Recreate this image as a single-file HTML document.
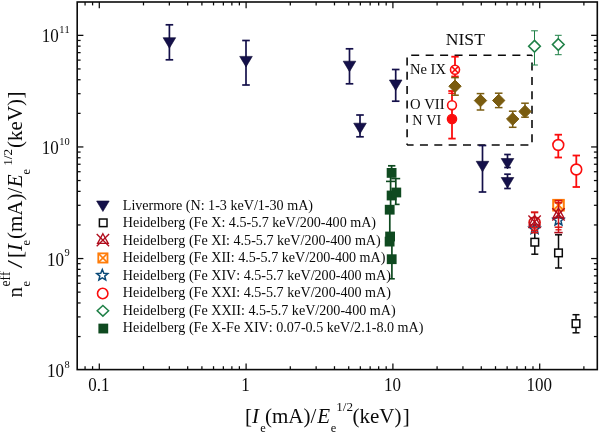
<!DOCTYPE html>
<html lang="en"><head><meta charset="utf-8"><title>Effective electron density plot</title>
<style>html,body{margin:0;padding:0;background:#fff;}body{width:600px;height:432px;overflow:hidden;}svg{display:block;}</style>
</head><body>
<svg width="600" height="432" viewBox="0 0 600 432" font-family="'Liberation Serif', serif" fill="#0a0a0a" style="font-kerning:none">
<rect x="0" y="0" width="600" height="432" fill="#fff"/>
<line x1="85.07" y1="369.60" x2="85.07" y2="366.20" stroke="#0a0a0a" stroke-width="1.25" />
<line x1="85.07" y1="2.00" x2="85.07" y2="5.40" stroke="#0a0a0a" stroke-width="1.25" />
<line x1="92.58" y1="369.60" x2="92.58" y2="366.20" stroke="#0a0a0a" stroke-width="1.25" />
<line x1="92.58" y1="2.00" x2="92.58" y2="5.40" stroke="#0a0a0a" stroke-width="1.25" />
<line x1="99.30" y1="369.60" x2="99.30" y2="363.40" stroke="#0a0a0a" stroke-width="1.25" />
<line x1="99.30" y1="2.00" x2="99.30" y2="8.20" stroke="#0a0a0a" stroke-width="1.25" />
<line x1="143.49" y1="369.60" x2="143.49" y2="366.20" stroke="#0a0a0a" stroke-width="1.25" />
<line x1="143.49" y1="2.00" x2="143.49" y2="5.40" stroke="#0a0a0a" stroke-width="1.25" />
<line x1="169.34" y1="369.60" x2="169.34" y2="366.20" stroke="#0a0a0a" stroke-width="1.25" />
<line x1="169.34" y1="2.00" x2="169.34" y2="5.40" stroke="#0a0a0a" stroke-width="1.25" />
<line x1="187.68" y1="369.60" x2="187.68" y2="366.20" stroke="#0a0a0a" stroke-width="1.25" />
<line x1="187.68" y1="2.00" x2="187.68" y2="5.40" stroke="#0a0a0a" stroke-width="1.25" />
<line x1="201.91" y1="369.60" x2="201.91" y2="366.20" stroke="#0a0a0a" stroke-width="1.25" />
<line x1="201.91" y1="2.00" x2="201.91" y2="5.40" stroke="#0a0a0a" stroke-width="1.25" />
<line x1="213.53" y1="369.60" x2="213.53" y2="366.20" stroke="#0a0a0a" stroke-width="1.25" />
<line x1="213.53" y1="2.00" x2="213.53" y2="5.40" stroke="#0a0a0a" stroke-width="1.25" />
<line x1="223.36" y1="369.60" x2="223.36" y2="366.20" stroke="#0a0a0a" stroke-width="1.25" />
<line x1="223.36" y1="2.00" x2="223.36" y2="5.40" stroke="#0a0a0a" stroke-width="1.25" />
<line x1="231.87" y1="369.60" x2="231.87" y2="366.20" stroke="#0a0a0a" stroke-width="1.25" />
<line x1="231.87" y1="2.00" x2="231.87" y2="5.40" stroke="#0a0a0a" stroke-width="1.25" />
<line x1="239.38" y1="369.60" x2="239.38" y2="366.20" stroke="#0a0a0a" stroke-width="1.25" />
<line x1="239.38" y1="2.00" x2="239.38" y2="5.40" stroke="#0a0a0a" stroke-width="1.25" />
<line x1="246.10" y1="369.60" x2="246.10" y2="363.40" stroke="#0a0a0a" stroke-width="1.25" />
<line x1="246.10" y1="2.00" x2="246.10" y2="8.20" stroke="#0a0a0a" stroke-width="1.25" />
<line x1="290.29" y1="369.60" x2="290.29" y2="366.20" stroke="#0a0a0a" stroke-width="1.25" />
<line x1="290.29" y1="2.00" x2="290.29" y2="5.40" stroke="#0a0a0a" stroke-width="1.25" />
<line x1="316.14" y1="369.60" x2="316.14" y2="366.20" stroke="#0a0a0a" stroke-width="1.25" />
<line x1="316.14" y1="2.00" x2="316.14" y2="5.40" stroke="#0a0a0a" stroke-width="1.25" />
<line x1="334.48" y1="369.60" x2="334.48" y2="366.20" stroke="#0a0a0a" stroke-width="1.25" />
<line x1="334.48" y1="2.00" x2="334.48" y2="5.40" stroke="#0a0a0a" stroke-width="1.25" />
<line x1="348.71" y1="369.60" x2="348.71" y2="366.20" stroke="#0a0a0a" stroke-width="1.25" />
<line x1="348.71" y1="2.00" x2="348.71" y2="5.40" stroke="#0a0a0a" stroke-width="1.25" />
<line x1="360.33" y1="369.60" x2="360.33" y2="366.20" stroke="#0a0a0a" stroke-width="1.25" />
<line x1="360.33" y1="2.00" x2="360.33" y2="5.40" stroke="#0a0a0a" stroke-width="1.25" />
<line x1="370.16" y1="369.60" x2="370.16" y2="366.20" stroke="#0a0a0a" stroke-width="1.25" />
<line x1="370.16" y1="2.00" x2="370.16" y2="5.40" stroke="#0a0a0a" stroke-width="1.25" />
<line x1="378.67" y1="369.60" x2="378.67" y2="366.20" stroke="#0a0a0a" stroke-width="1.25" />
<line x1="378.67" y1="2.00" x2="378.67" y2="5.40" stroke="#0a0a0a" stroke-width="1.25" />
<line x1="386.18" y1="369.60" x2="386.18" y2="366.20" stroke="#0a0a0a" stroke-width="1.25" />
<line x1="386.18" y1="2.00" x2="386.18" y2="5.40" stroke="#0a0a0a" stroke-width="1.25" />
<line x1="392.90" y1="369.60" x2="392.90" y2="363.40" stroke="#0a0a0a" stroke-width="1.25" />
<line x1="392.90" y1="2.00" x2="392.90" y2="8.20" stroke="#0a0a0a" stroke-width="1.25" />
<line x1="437.09" y1="369.60" x2="437.09" y2="366.20" stroke="#0a0a0a" stroke-width="1.25" />
<line x1="437.09" y1="2.00" x2="437.09" y2="5.40" stroke="#0a0a0a" stroke-width="1.25" />
<line x1="462.94" y1="369.60" x2="462.94" y2="366.20" stroke="#0a0a0a" stroke-width="1.25" />
<line x1="462.94" y1="2.00" x2="462.94" y2="5.40" stroke="#0a0a0a" stroke-width="1.25" />
<line x1="481.28" y1="369.60" x2="481.28" y2="366.20" stroke="#0a0a0a" stroke-width="1.25" />
<line x1="481.28" y1="2.00" x2="481.28" y2="5.40" stroke="#0a0a0a" stroke-width="1.25" />
<line x1="495.51" y1="369.60" x2="495.51" y2="366.20" stroke="#0a0a0a" stroke-width="1.25" />
<line x1="495.51" y1="2.00" x2="495.51" y2="5.40" stroke="#0a0a0a" stroke-width="1.25" />
<line x1="507.13" y1="369.60" x2="507.13" y2="366.20" stroke="#0a0a0a" stroke-width="1.25" />
<line x1="507.13" y1="2.00" x2="507.13" y2="5.40" stroke="#0a0a0a" stroke-width="1.25" />
<line x1="516.96" y1="369.60" x2="516.96" y2="366.20" stroke="#0a0a0a" stroke-width="1.25" />
<line x1="516.96" y1="2.00" x2="516.96" y2="5.40" stroke="#0a0a0a" stroke-width="1.25" />
<line x1="525.47" y1="369.60" x2="525.47" y2="366.20" stroke="#0a0a0a" stroke-width="1.25" />
<line x1="525.47" y1="2.00" x2="525.47" y2="5.40" stroke="#0a0a0a" stroke-width="1.25" />
<line x1="532.98" y1="369.60" x2="532.98" y2="366.20" stroke="#0a0a0a" stroke-width="1.25" />
<line x1="532.98" y1="2.00" x2="532.98" y2="5.40" stroke="#0a0a0a" stroke-width="1.25" />
<line x1="539.70" y1="369.60" x2="539.70" y2="363.40" stroke="#0a0a0a" stroke-width="1.25" />
<line x1="539.70" y1="2.00" x2="539.70" y2="8.20" stroke="#0a0a0a" stroke-width="1.25" />
<line x1="583.89" y1="369.60" x2="583.89" y2="366.20" stroke="#0a0a0a" stroke-width="1.25" />
<line x1="583.89" y1="2.00" x2="583.89" y2="5.40" stroke="#0a0a0a" stroke-width="1.25" />
<line x1="77.20" y1="336.56" x2="80.60" y2="336.56" stroke="#0a0a0a" stroke-width="1.25" />
<line x1="597.30" y1="336.56" x2="593.90" y2="336.56" stroke="#0a0a0a" stroke-width="1.25" />
<line x1="77.20" y1="316.90" x2="80.60" y2="316.90" stroke="#0a0a0a" stroke-width="1.25" />
<line x1="597.30" y1="316.90" x2="593.90" y2="316.90" stroke="#0a0a0a" stroke-width="1.25" />
<line x1="77.20" y1="302.96" x2="80.60" y2="302.96" stroke="#0a0a0a" stroke-width="1.25" />
<line x1="597.30" y1="302.96" x2="593.90" y2="302.96" stroke="#0a0a0a" stroke-width="1.25" />
<line x1="77.20" y1="292.14" x2="80.60" y2="292.14" stroke="#0a0a0a" stroke-width="1.25" />
<line x1="597.30" y1="292.14" x2="593.90" y2="292.14" stroke="#0a0a0a" stroke-width="1.25" />
<line x1="77.20" y1="283.31" x2="80.60" y2="283.31" stroke="#0a0a0a" stroke-width="1.25" />
<line x1="597.30" y1="283.31" x2="593.90" y2="283.31" stroke="#0a0a0a" stroke-width="1.25" />
<line x1="77.20" y1="275.84" x2="80.60" y2="275.84" stroke="#0a0a0a" stroke-width="1.25" />
<line x1="597.30" y1="275.84" x2="593.90" y2="275.84" stroke="#0a0a0a" stroke-width="1.25" />
<line x1="77.20" y1="269.37" x2="80.60" y2="269.37" stroke="#0a0a0a" stroke-width="1.25" />
<line x1="597.30" y1="269.37" x2="593.90" y2="269.37" stroke="#0a0a0a" stroke-width="1.25" />
<line x1="77.20" y1="263.66" x2="80.60" y2="263.66" stroke="#0a0a0a" stroke-width="1.25" />
<line x1="597.30" y1="263.66" x2="593.90" y2="263.66" stroke="#0a0a0a" stroke-width="1.25" />
<line x1="77.20" y1="258.55" x2="83.40" y2="258.55" stroke="#0a0a0a" stroke-width="1.25" />
<line x1="597.30" y1="258.55" x2="591.10" y2="258.55" stroke="#0a0a0a" stroke-width="1.25" />
<line x1="77.20" y1="224.96" x2="80.60" y2="224.96" stroke="#0a0a0a" stroke-width="1.25" />
<line x1="597.30" y1="224.96" x2="593.90" y2="224.96" stroke="#0a0a0a" stroke-width="1.25" />
<line x1="77.20" y1="205.30" x2="80.60" y2="205.30" stroke="#0a0a0a" stroke-width="1.25" />
<line x1="597.30" y1="205.30" x2="593.90" y2="205.30" stroke="#0a0a0a" stroke-width="1.25" />
<line x1="77.20" y1="191.36" x2="80.60" y2="191.36" stroke="#0a0a0a" stroke-width="1.25" />
<line x1="597.30" y1="191.36" x2="593.90" y2="191.36" stroke="#0a0a0a" stroke-width="1.25" />
<line x1="77.20" y1="180.54" x2="80.60" y2="180.54" stroke="#0a0a0a" stroke-width="1.25" />
<line x1="597.30" y1="180.54" x2="593.90" y2="180.54" stroke="#0a0a0a" stroke-width="1.25" />
<line x1="77.20" y1="171.71" x2="80.60" y2="171.71" stroke="#0a0a0a" stroke-width="1.25" />
<line x1="597.30" y1="171.71" x2="593.90" y2="171.71" stroke="#0a0a0a" stroke-width="1.25" />
<line x1="77.20" y1="164.24" x2="80.60" y2="164.24" stroke="#0a0a0a" stroke-width="1.25" />
<line x1="597.30" y1="164.24" x2="593.90" y2="164.24" stroke="#0a0a0a" stroke-width="1.25" />
<line x1="77.20" y1="157.77" x2="80.60" y2="157.77" stroke="#0a0a0a" stroke-width="1.25" />
<line x1="597.30" y1="157.77" x2="593.90" y2="157.77" stroke="#0a0a0a" stroke-width="1.25" />
<line x1="77.20" y1="152.06" x2="80.60" y2="152.06" stroke="#0a0a0a" stroke-width="1.25" />
<line x1="597.30" y1="152.06" x2="593.90" y2="152.06" stroke="#0a0a0a" stroke-width="1.25" />
<line x1="77.20" y1="146.95" x2="83.40" y2="146.95" stroke="#0a0a0a" stroke-width="1.25" />
<line x1="597.30" y1="146.95" x2="591.10" y2="146.95" stroke="#0a0a0a" stroke-width="1.25" />
<line x1="77.20" y1="113.36" x2="80.60" y2="113.36" stroke="#0a0a0a" stroke-width="1.25" />
<line x1="597.30" y1="113.36" x2="593.90" y2="113.36" stroke="#0a0a0a" stroke-width="1.25" />
<line x1="77.20" y1="93.70" x2="80.60" y2="93.70" stroke="#0a0a0a" stroke-width="1.25" />
<line x1="597.30" y1="93.70" x2="593.90" y2="93.70" stroke="#0a0a0a" stroke-width="1.25" />
<line x1="77.20" y1="79.76" x2="80.60" y2="79.76" stroke="#0a0a0a" stroke-width="1.25" />
<line x1="597.30" y1="79.76" x2="593.90" y2="79.76" stroke="#0a0a0a" stroke-width="1.25" />
<line x1="77.20" y1="68.94" x2="80.60" y2="68.94" stroke="#0a0a0a" stroke-width="1.25" />
<line x1="597.30" y1="68.94" x2="593.90" y2="68.94" stroke="#0a0a0a" stroke-width="1.25" />
<line x1="77.20" y1="60.11" x2="80.60" y2="60.11" stroke="#0a0a0a" stroke-width="1.25" />
<line x1="597.30" y1="60.11" x2="593.90" y2="60.11" stroke="#0a0a0a" stroke-width="1.25" />
<line x1="77.20" y1="52.64" x2="80.60" y2="52.64" stroke="#0a0a0a" stroke-width="1.25" />
<line x1="597.30" y1="52.64" x2="593.90" y2="52.64" stroke="#0a0a0a" stroke-width="1.25" />
<line x1="77.20" y1="46.17" x2="80.60" y2="46.17" stroke="#0a0a0a" stroke-width="1.25" />
<line x1="597.30" y1="46.17" x2="593.90" y2="46.17" stroke="#0a0a0a" stroke-width="1.25" />
<line x1="77.20" y1="40.46" x2="80.60" y2="40.46" stroke="#0a0a0a" stroke-width="1.25" />
<line x1="597.30" y1="40.46" x2="593.90" y2="40.46" stroke="#0a0a0a" stroke-width="1.25" />
<line x1="77.20" y1="35.35" x2="83.40" y2="35.35" stroke="#0a0a0a" stroke-width="1.25" />
<line x1="597.30" y1="35.35" x2="591.10" y2="35.35" stroke="#0a0a0a" stroke-width="1.25" />
<rect x="77.2" y="2.0" width="520.10" height="367.60" fill="none" stroke="#0a0a0a" stroke-width="1.6"/>
<text x="98.80" y="390.80" font-size="18" text-anchor="middle" textLength="21.25" lengthAdjust="spacingAndGlyphs">0.1</text>
<text x="245.60" y="390.80" font-size="18" text-anchor="middle" textLength="8.50" lengthAdjust="spacingAndGlyphs">1</text>
<text x="392.40" y="390.80" font-size="18" text-anchor="middle" textLength="17.00" lengthAdjust="spacingAndGlyphs">10</text>
<text x="539.20" y="390.80" font-size="18" text-anchor="middle" textLength="25.50" lengthAdjust="spacingAndGlyphs">100</text>
<text x="58.80" y="42.30" font-size="18.5" text-anchor="end" textLength="17" lengthAdjust="spacingAndGlyphs">10</text>
<text x="69.70" y="33.10" font-size="10.4" text-anchor="end" >11</text>
<text x="58.80" y="153.90" font-size="18.5" text-anchor="end" textLength="17" lengthAdjust="spacingAndGlyphs">10</text>
<text x="69.70" y="144.70" font-size="10.4" text-anchor="end" >10</text>
<text x="63.90" y="265.50" font-size="18.5" text-anchor="end" textLength="17" lengthAdjust="spacingAndGlyphs">10</text>
<text x="69.70" y="256.30" font-size="10.4" text-anchor="end" >9</text>
<text x="63.90" y="377.10" font-size="18.5" text-anchor="end" textLength="17" lengthAdjust="spacingAndGlyphs">10</text>
<text x="69.70" y="367.90" font-size="10.4" text-anchor="end" >8</text>
<line x1="407.10" y1="55.20" x2="532.00" y2="55.20" stroke="#0a0a0a" stroke-width="1.6" stroke-dasharray="8 6.45" stroke-dashoffset="10.35"/>
<line x1="407.10" y1="55.20" x2="407.10" y2="145.00" stroke="#0a0a0a" stroke-width="1.6" stroke-dasharray="8 6.35" stroke-dashoffset="12.15"/>
<line x1="407.10" y1="145.00" x2="532.00" y2="145.00" stroke="#0a0a0a" stroke-width="1.6" stroke-dasharray="8 6.35" stroke-dashoffset="1.5"/>
<line x1="532.00" y1="145.00" x2="532.00" y2="55.20" stroke="#0a0a0a" stroke-width="1.6" stroke-dasharray="8 6.35" stroke-dashoffset="11.7"/>
<line x1="169.40" y1="24.80" x2="169.40" y2="59.80" stroke="#14104a" stroke-width="1.7" />
<line x1="165.60" y1="24.80" x2="173.20" y2="24.80" stroke="#14104a" stroke-width="1.7" />
<line x1="165.60" y1="59.80" x2="173.20" y2="59.80" stroke="#14104a" stroke-width="1.7" />
<polygon points="163.10,37.70 175.70,37.70 169.40,48.20" fill="#14104a" stroke="#0b0833" stroke-width="0.6" stroke-linejoin="round"/>
<line x1="246.00" y1="40.50" x2="246.00" y2="85.00" stroke="#14104a" stroke-width="1.7" />
<line x1="242.20" y1="40.50" x2="249.80" y2="40.50" stroke="#14104a" stroke-width="1.7" />
<line x1="242.20" y1="85.00" x2="249.80" y2="85.00" stroke="#14104a" stroke-width="1.7" />
<polygon points="239.70,56.40 252.30,56.40 246.00,66.90" fill="#14104a" stroke="#0b0833" stroke-width="0.6" stroke-linejoin="round"/>
<line x1="349.50" y1="48.80" x2="349.50" y2="83.80" stroke="#14104a" stroke-width="1.7" />
<line x1="345.70" y1="48.80" x2="353.30" y2="48.80" stroke="#14104a" stroke-width="1.7" />
<line x1="345.70" y1="83.80" x2="353.30" y2="83.80" stroke="#14104a" stroke-width="1.7" />
<polygon points="343.20,61.20 355.80,61.20 349.50,71.70" fill="#14104a" stroke="#0b0833" stroke-width="0.6" stroke-linejoin="round"/>
<line x1="360.00" y1="115.00" x2="360.00" y2="136.80" stroke="#14104a" stroke-width="1.7" />
<line x1="356.20" y1="115.00" x2="363.80" y2="115.00" stroke="#14104a" stroke-width="1.7" />
<line x1="356.20" y1="136.80" x2="363.80" y2="136.80" stroke="#14104a" stroke-width="1.7" />
<polygon points="353.70,123.20 366.30,123.20 360.00,133.70" fill="#14104a" stroke="#0b0833" stroke-width="0.6" stroke-linejoin="round"/>
<line x1="395.70" y1="69.50" x2="395.70" y2="101.20" stroke="#14104a" stroke-width="1.7" />
<line x1="391.90" y1="69.50" x2="399.50" y2="69.50" stroke="#14104a" stroke-width="1.7" />
<line x1="391.90" y1="101.20" x2="399.50" y2="101.20" stroke="#14104a" stroke-width="1.7" />
<polygon points="389.40,80.00 402.00,80.00 395.70,90.50" fill="#14104a" stroke="#0b0833" stroke-width="0.6" stroke-linejoin="round"/>
<line x1="482.50" y1="145.50" x2="482.50" y2="192.00" stroke="#14104a" stroke-width="1.7" />
<line x1="478.70" y1="145.50" x2="486.30" y2="145.50" stroke="#14104a" stroke-width="1.7" />
<line x1="478.70" y1="192.00" x2="486.30" y2="192.00" stroke="#14104a" stroke-width="1.7" />
<polygon points="476.20,161.30 488.80,161.30 482.50,171.80" fill="#14104a" stroke="#0b0833" stroke-width="0.6" stroke-linejoin="round"/>
<line x1="507.50" y1="154.50" x2="507.50" y2="167.50" stroke="#14104a" stroke-width="1.7" />
<line x1="504.20" y1="154.50" x2="510.80" y2="154.50" stroke="#14104a" stroke-width="1.7" />
<line x1="504.20" y1="167.50" x2="510.80" y2="167.50" stroke="#14104a" stroke-width="1.7" />
<polygon points="501.20,158.50 513.80,158.50 507.50,169.00" fill="#14104a" stroke="#0b0833" stroke-width="0.6" stroke-linejoin="round"/>
<line x1="507.50" y1="174.20" x2="507.50" y2="188.50" stroke="#14104a" stroke-width="1.7" />
<line x1="504.20" y1="174.20" x2="510.80" y2="174.20" stroke="#14104a" stroke-width="1.7" />
<line x1="504.20" y1="188.50" x2="510.80" y2="188.50" stroke="#14104a" stroke-width="1.7" />
<polygon points="501.20,177.50 513.80,177.50 507.50,188.00" fill="#14104a" stroke="#0b0833" stroke-width="0.6" stroke-linejoin="round"/>
<line x1="388.00" y1="165.80" x2="395.40" y2="165.80" stroke="#0f4a20" stroke-width="1.7" />
<line x1="391.60" y1="165.80" x2="391.60" y2="170.00" stroke="#0f4a20" stroke-width="1.7" />
<line x1="391.20" y1="178.60" x2="400.20" y2="178.60" stroke="#0f4a20" stroke-width="1.6" />
<line x1="386.00" y1="181.40" x2="396.00" y2="181.40" stroke="#0f4a20" stroke-width="1.6" />
<line x1="390.60" y1="177.00" x2="390.60" y2="206.00" stroke="#0f4a20" stroke-width="1.7" />
<line x1="395.80" y1="178.60" x2="395.80" y2="204.40" stroke="#0f4a20" stroke-width="1.7" />
<line x1="394.70" y1="204.40" x2="399.60" y2="204.40" stroke="#0f4a20" stroke-width="1.6" />
<line x1="389.80" y1="206.00" x2="389.80" y2="236.00" stroke="#0f4a20" stroke-width="1.7" />
<line x1="391.90" y1="240.00" x2="391.90" y2="278.80" stroke="#0f4a20" stroke-width="1.7" />
<line x1="389.40" y1="278.80" x2="394.80" y2="278.80" stroke="#0f4a20" stroke-width="1.6" />
<rect x="386.70" y="168.00" width="9.8" height="9.8" fill="#0f4a20"/>
<rect x="386.70" y="190.60" width="9.8" height="9.8" fill="#0f4a20"/>
<rect x="391.40" y="187.60" width="9.8" height="9.8" fill="#0f4a20"/>
<rect x="384.80" y="204.80" width="9.8" height="9.8" fill="#0f4a20"/>
<rect x="385.20" y="231.60" width="9.8" height="9.8" fill="#0f4a20"/>
<rect x="384.70" y="236.70" width="9.8" height="9.8" fill="#0f4a20"/>
<rect x="386.80" y="254.30" width="9.8" height="9.8" fill="#0f4a20"/>
<line x1="455.00" y1="56.70" x2="455.00" y2="76.50" stroke="#fb0d0d" stroke-width="1.8" />
<line x1="451.30" y1="56.70" x2="458.70" y2="56.70" stroke="#fb0d0d" stroke-width="1.8" />
<line x1="451.30" y1="76.50" x2="458.70" y2="76.50" stroke="#fb0d0d" stroke-width="1.8" />
<line x1="452.00" y1="91.00" x2="452.00" y2="138.60" stroke="#fb0d0d" stroke-width="1.8" />
<line x1="448.30" y1="91.00" x2="455.70" y2="91.00" stroke="#fb0d0d" stroke-width="1.8" />
<line x1="448.30" y1="138.60" x2="455.70" y2="138.60" stroke="#fb0d0d" stroke-width="1.8" />
<line x1="448.30" y1="93.30" x2="455.70" y2="93.30" stroke="#fb0d0d" stroke-width="1.3" />
<circle cx="455.00" cy="69.80" r="4.5" fill="#fff" stroke="#fb0d0d" stroke-width="1.6"/>
<line x1="451.82" y1="66.62" x2="458.18" y2="72.98" stroke="#fb0d0d" stroke-width="1.6" />
<line x1="451.82" y1="72.98" x2="458.18" y2="66.62" stroke="#fb0d0d" stroke-width="1.6" />
<line x1="455.00" y1="77.60" x2="455.00" y2="95.20" stroke="#7a5c10" stroke-width="1.5" />
<line x1="451.20" y1="77.60" x2="458.80" y2="77.60" stroke="#7a5c10" stroke-width="1.5" />
<line x1="451.20" y1="95.20" x2="458.80" y2="95.20" stroke="#7a5c10" stroke-width="1.5" />
<line x1="480.50" y1="93.60" x2="480.50" y2="110.00" stroke="#7a5c10" stroke-width="1.5" />
<line x1="476.70" y1="93.60" x2="484.30" y2="93.60" stroke="#7a5c10" stroke-width="1.5" />
<line x1="476.70" y1="110.00" x2="484.30" y2="110.00" stroke="#7a5c10" stroke-width="1.5" />
<line x1="498.70" y1="93.20" x2="498.70" y2="107.60" stroke="#7a5c10" stroke-width="1.5" />
<line x1="494.90" y1="93.20" x2="502.50" y2="93.20" stroke="#7a5c10" stroke-width="1.5" />
<line x1="494.90" y1="107.60" x2="502.50" y2="107.60" stroke="#7a5c10" stroke-width="1.5" />
<line x1="512.70" y1="111.20" x2="512.70" y2="127.30" stroke="#7a5c10" stroke-width="1.5" />
<line x1="508.90" y1="111.20" x2="516.50" y2="111.20" stroke="#7a5c10" stroke-width="1.5" />
<line x1="508.90" y1="127.30" x2="516.50" y2="127.30" stroke="#7a5c10" stroke-width="1.5" />
<line x1="525.00" y1="103.20" x2="525.00" y2="117.20" stroke="#7a5c10" stroke-width="1.5" />
<line x1="521.20" y1="103.20" x2="528.80" y2="103.20" stroke="#7a5c10" stroke-width="1.5" />
<line x1="521.20" y1="117.20" x2="528.80" y2="117.20" stroke="#7a5c10" stroke-width="1.5" />
<polygon points="455.00,80.00 461.20,86.20 455.00,92.40 448.80,86.20" fill="#7a5c10" stroke="#7a5c10" stroke-width="1.0" stroke-linejoin="miter"/>
<polygon points="480.50,94.40 486.70,100.60 480.50,106.80 474.30,100.60" fill="#7a5c10" stroke="#7a5c10" stroke-width="1.0" stroke-linejoin="miter"/>
<polygon points="498.70,94.30 504.90,100.50 498.70,106.70 492.50,100.50" fill="#7a5c10" stroke="#7a5c10" stroke-width="1.0" stroke-linejoin="miter"/>
<polygon points="512.70,112.80 518.90,119.00 512.70,125.20 506.50,119.00" fill="#7a5c10" stroke="#7a5c10" stroke-width="1.0" stroke-linejoin="miter"/>
<polygon points="525.00,105.30 531.20,111.50 525.00,117.70 518.80,111.50" fill="#7a5c10" stroke="#7a5c10" stroke-width="1.0" stroke-linejoin="miter"/>
<circle cx="452.00" cy="105.20" r="4.4" fill="#fff" stroke="#fb0d0d" stroke-width="1.6"/>
<circle cx="452.00" cy="119.00" r="4.6" fill="#fb0d0d" stroke="#fb0d0d" stroke-width="1.4"/>
<line x1="534.50" y1="30.80" x2="534.50" y2="65.00" stroke="#1f8047" stroke-width="1.0" />
<line x1="531.10" y1="30.80" x2="537.90" y2="30.80" stroke="#1f8047" stroke-width="1.0" />
<line x1="531.10" y1="65.00" x2="537.90" y2="65.00" stroke="#1f8047" stroke-width="1.0" />
<line x1="558.30" y1="35.30" x2="558.30" y2="54.70" stroke="#1f8047" stroke-width="1.0" />
<line x1="554.90" y1="35.30" x2="561.70" y2="35.30" stroke="#1f8047" stroke-width="1.0" />
<line x1="554.90" y1="54.70" x2="561.70" y2="54.70" stroke="#1f8047" stroke-width="1.0" />
<polygon points="534.50,40.40 540.30,46.20 534.50,52.00 528.70,46.20" fill="#fff" stroke="#1f8047" stroke-width="1.6" stroke-linejoin="miter"/>
<polygon points="558.30,38.70 564.10,44.50 558.30,50.30 552.50,44.50" fill="#fff" stroke="#1f8047" stroke-width="1.6" stroke-linejoin="miter"/>
<line x1="558.30" y1="134.70" x2="558.30" y2="157.50" stroke="#fb0d0d" stroke-width="1.8" />
<line x1="554.60" y1="134.70" x2="562.00" y2="134.70" stroke="#fb0d0d" stroke-width="1.8" />
<line x1="554.60" y1="157.50" x2="562.00" y2="157.50" stroke="#fb0d0d" stroke-width="1.8" />
<line x1="576.30" y1="155.50" x2="576.30" y2="187.00" stroke="#fb0d0d" stroke-width="1.8" />
<line x1="572.60" y1="155.50" x2="580.00" y2="155.50" stroke="#fb0d0d" stroke-width="1.8" />
<line x1="572.60" y1="187.00" x2="580.00" y2="187.00" stroke="#fb0d0d" stroke-width="1.8" />
<circle cx="558.30" cy="145.00" r="5.4" fill="#fff" stroke="#fb0d0d" stroke-width="1.6"/>
<circle cx="576.30" cy="169.50" r="5.4" fill="#fff" stroke="#fb0d0d" stroke-width="1.6"/>
<line x1="534.80" y1="233.00" x2="534.80" y2="254.20" stroke="#0a0a0a" stroke-width="1.5" />
<line x1="531.30" y1="254.20" x2="538.30" y2="254.20" stroke="#0a0a0a" stroke-width="1.5" />
<line x1="558.50" y1="234.80" x2="558.50" y2="268.00" stroke="#0a0a0a" stroke-width="1.5" />
<line x1="555.00" y1="234.80" x2="562.00" y2="234.80" stroke="#0a0a0a" stroke-width="1.5" />
<line x1="555.00" y1="268.00" x2="562.00" y2="268.00" stroke="#0a0a0a" stroke-width="1.5" />
<line x1="576.00" y1="314.70" x2="576.00" y2="332.80" stroke="#0a0a0a" stroke-width="1.5" />
<line x1="572.50" y1="314.70" x2="579.50" y2="314.70" stroke="#0a0a0a" stroke-width="1.5" />
<line x1="572.50" y1="332.80" x2="579.50" y2="332.80" stroke="#0a0a0a" stroke-width="1.5" />
<rect x="531.00" y="238.40" width="7.6" height="7.6" fill="#fff" stroke="#0a0a0a" stroke-width="1.5"/>
<rect x="554.70" y="249.10" width="7.6" height="7.6" fill="#fff" stroke="#0a0a0a" stroke-width="1.5"/>
<rect x="572.20" y="319.80" width="7.6" height="7.6" fill="#fff" stroke="#0a0a0a" stroke-width="1.5"/>
<polygon points="534.60,223.00 536.13,226.70 540.12,227.01 537.07,229.60 538.01,233.49 534.60,231.40 531.19,233.49 532.13,229.60 529.08,227.01 533.07,226.70" fill="none" stroke="#0a4a78" stroke-width="1.5" stroke-linejoin="miter"/>
<line x1="534.60" y1="212.30" x2="534.60" y2="233.50" stroke="#d81414" stroke-width="1.5" />
<line x1="530.90" y1="212.30" x2="538.30" y2="212.30" stroke="#d81414" stroke-width="2.0" />
<line x1="531.00" y1="230.30" x2="538.20" y2="230.30" stroke="#d81414" stroke-width="1.8" />
<line x1="531.00" y1="232.60" x2="538.20" y2="232.60" stroke="#d81414" stroke-width="1.6" />
<circle cx="534.60" cy="222.60" r="5.5" fill="none" stroke="#d81414" stroke-width="1.7"/>
<polygon points="534.60,215.40 539.90,225.00 529.30,225.00" fill="none" stroke="#b00c1c" stroke-width="1.35" stroke-linejoin="miter"/>
<line x1="528.40" y1="215.60" x2="540.80" y2="228.00" stroke="#b00c1c" stroke-width="1.35" />
<line x1="528.40" y1="228.00" x2="540.80" y2="215.60" stroke="#b00c1c" stroke-width="1.35" />
<rect x="553.20" y="199.90" width="10.6" height="10.6" fill="none" stroke="#ff7d0a" stroke-width="2.0"/>
<line x1="553.20" y1="199.90" x2="563.80" y2="210.50" stroke="#ff7d0a" stroke-width="1.8" />
<line x1="553.20" y1="210.50" x2="563.80" y2="199.90" stroke="#ff7d0a" stroke-width="1.8" />
<polygon points="558.50,214.40 560.03,218.10 564.02,218.41 560.97,221.00 561.91,224.89 558.50,222.80 555.09,224.89 556.03,221.00 552.98,218.41 556.97,218.10" fill="none" stroke="#0a4a78" stroke-width="1.5" stroke-linejoin="miter"/>
<line x1="558.50" y1="200.60" x2="558.50" y2="232.60" stroke="#d81414" stroke-width="1.5" />
<line x1="554.70" y1="200.60" x2="562.30" y2="200.60" stroke="#d81414" stroke-width="1.6" />
<line x1="554.70" y1="202.80" x2="562.30" y2="202.80" stroke="#d81414" stroke-width="1.5" />
<line x1="554.70" y1="227.20" x2="562.30" y2="227.20" stroke="#d81414" stroke-width="1.5" />
<line x1="555.50" y1="229.80" x2="561.50" y2="229.80" stroke="#d81414" stroke-width="1.3" />
<line x1="554.30" y1="232.60" x2="562.70" y2="232.60" stroke="#b00c1c" stroke-width="1.6" />
<polygon points="558.50,208.00 563.80,217.60 553.20,217.60" fill="none" stroke="#b00c1c" stroke-width="1.35" stroke-linejoin="miter"/>
<line x1="552.30" y1="208.20" x2="564.70" y2="220.60" stroke="#b00c1c" stroke-width="1.35" />
<line x1="552.30" y1="220.60" x2="564.70" y2="208.20" stroke="#b00c1c" stroke-width="1.35" />
<polygon points="96.60,201.00 109.20,201.00 102.90,211.50" fill="#14104a" stroke="#0b0833" stroke-width="0.6" stroke-linejoin="round"/>
<rect x="99.40" y="219.02" width="7.6" height="7.6" fill="#fff" stroke="#0a0a0a" stroke-width="1.5"/>
<polygon points="102.90,233.74 108.20,243.34 97.60,243.34" fill="none" stroke="#b00c1c" stroke-width="1.35" stroke-linejoin="miter"/>
<line x1="96.70" y1="233.94" x2="109.10" y2="246.34" stroke="#b00c1c" stroke-width="1.35" />
<line x1="96.70" y1="246.34" x2="109.10" y2="233.94" stroke="#b00c1c" stroke-width="1.35" />
<rect x="98.30" y="253.36" width="9.2" height="9.2" fill="#fff" stroke="#ff7d0a" stroke-width="1.8"/>
<line x1="98.30" y1="253.36" x2="107.50" y2="262.56" stroke="#ff7d0a" stroke-width="1.62" />
<line x1="98.30" y1="262.56" x2="107.50" y2="253.36" stroke="#ff7d0a" stroke-width="1.62" />
<polygon points="102.30,269.48 103.83,273.18 107.82,273.49 104.77,276.08 105.71,279.97 102.30,277.88 98.89,279.97 99.83,276.08 96.78,273.49 100.77,273.18" fill="#fff" stroke="#0a4a78" stroke-width="1.5" stroke-linejoin="miter"/>
<circle cx="102.70" cy="293.50" r="5.2" fill="#fff" stroke="#fb0d0d" stroke-width="1.6"/>
<polygon points="102.90,305.52 108.60,310.82 102.90,316.12 97.20,310.82" fill="#fff" stroke="#1f8047" stroke-width="1.5" stroke-linejoin="miter"/>
<rect x="98.40" y="323.64" width="9.8" height="9.8" fill="#0f4a20"/>
<text x="122.80" y="209.90" font-size="14.1" text-anchor="start" >Livermore (N: 1-3 keV/1-30 mA)</text>
<text x="122.80" y="227.40" font-size="14.1" text-anchor="start" >Heidelberg (Fe X: 4.5-5.7 keV/200-400 mA)</text>
<text x="122.80" y="244.90" font-size="14.1" text-anchor="start" >Heidelberg (Fe XI: 4.5-5.7 keV/200-400 mA)</text>
<text x="122.80" y="262.40" font-size="14.1" text-anchor="start" >Heidelberg (Fe XII: 4.5-5.7 keV/200-400 mA)</text>
<text x="122.80" y="279.90" font-size="14.1" text-anchor="start" >Heidelberg (Fe XIV: 4.5-5.7 keV/200-400 mA)</text>
<text x="122.80" y="297.40" font-size="14.1" text-anchor="start" >Heidelberg (Fe XXI: 4.5-5.7 keV/200-400 mA)</text>
<text x="122.80" y="314.90" font-size="14.1" text-anchor="start" >Heidelberg (Fe XXII: 4.5-5.7 keV/200-400 mA)</text>
<text x="122.80" y="332.40" font-size="14.1" text-anchor="start" >Heidelberg (Fe X-Fe XIV: 0.07-0.5 keV/2.1-8.0 mA)</text>
<text x="445.80" y="45.40" font-size="17.6" text-anchor="start" >NIST</text>
<text x="410.00" y="73.50" font-size="14.3" text-anchor="start" textLength="36.0" lengthAdjust="spacingAndGlyphs">Ne IX</text>
<text x="410.00" y="108.50" font-size="14.3" text-anchor="start" textLength="34.6" lengthAdjust="spacingAndGlyphs">O VII</text>
<text x="412.30" y="125.20" font-size="14.3" text-anchor="start" textLength="28.9" lengthAdjust="spacingAndGlyphs">N VI</text>
<g transform="translate(0,422.6) rotate(0)" font-size="21">
<text x="244.9" y="0">[<tspan font-style="italic">I</tspan></text>
<text x="260.2" y="8.9" font-size="12.5">e</text>
<text x="265.0" y="0">(mA)/</text>
<text x="317.30" y="0" font-style="italic">E</text>
<text x="330.8" y="8.9" font-size="12.5">e</text>
<text x="336.2" y="-11.6" font-size="12" textLength="16.8" lengthAdjust="spacingAndGlyphs">1/2</text>
<text x="352.5" y="0">(keV)</text>
<text x="402.70" y="0">]</text>
</g>
<g transform="translate(22.3,297.5) rotate(-90)" font-size="21">
<text x="0" y="0">n</text>
<text x="10.9" y="7.8" font-size="12.5">e</text>
<text x="11.0" y="-12.2" font-size="13.6">eff</text>
<text x="0" y="0" transform="translate(33.2,0) scale(1.4,1) translate(-2.9,0)">/</text>
<text x="39.5" y="0">[<tspan font-style="italic">I</tspan></text>
<text x="52.0" y="7.8" font-size="12.5">e</text>
<text x="58.4" y="0">(mA)/</text>
<text x="110.20" y="0" font-style="italic">E</text>
<text x="123.0" y="7.8" font-size="12.5">e</text>
<text x="131.8" y="-10.6" font-size="12" textLength="16.8" lengthAdjust="spacingAndGlyphs">1/2</text>
<text x="149.6" y="0">(keV)</text>
<text x="199.10" y="0">]</text>
</g>
</svg>
</body></html>
